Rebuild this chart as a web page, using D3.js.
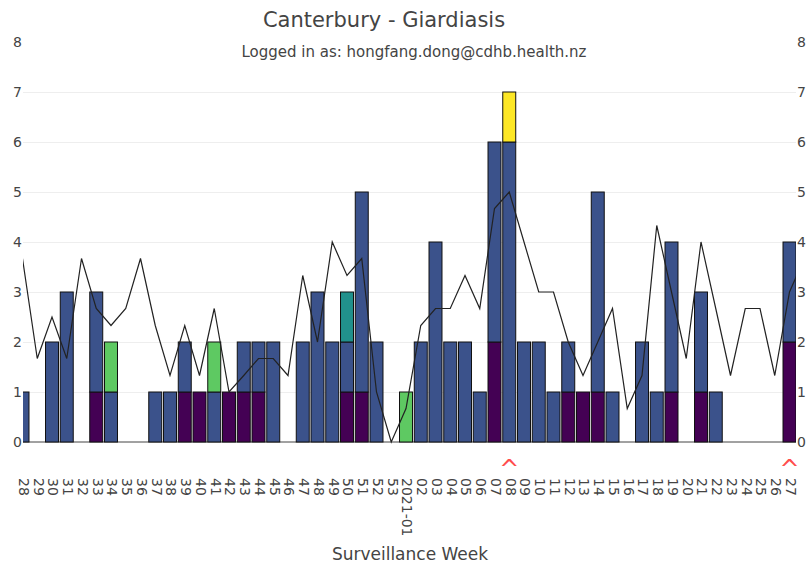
<!DOCTYPE html>
<html>
<head>
<meta charset="utf-8">
<script src="https://cdn.jsdelivr.net/npm/d3@7"></script>
<style>
  body { margin: 0; background: #fff; }
  svg { display: block; font-family: "DejaVu Sans", Verdana, sans-serif; }
</style>
</head>
<body>
<svg id="chart" width="806" height="566"></svg>
<script>
// surveillance weeks, 2020 wk28 -> 2021 wk27
const weeks = ['28', '29', '30', '31', '32', '33', '34', '35', '36', '37', '38', '39', '40',
  '41', '42', '43', '44', '45', '46', '47', '48', '49', '50', '51', '52', '53',
  '2021-01', '02', '03', '04', '05', '06', '07', '08', '09', '10', '11', '12', '13',
  '14', '15', '16', '17', '18', '19', '20', '21', '22', '23', '24', '25', '26', '27'];

// stacked counts, bottom to top
const countsPurple = [0, 0, 0, 0, 0, 1, 0, 0, 0, 0, 0, 1, 1, 0, 1, 1, 1, 0, 0, 0, 0, 0, 1, 1, 0, 0,
  0, 0, 0, 0, 0, 0, 2, 0, 0, 0, 0, 1, 1, 1, 0, 0, 0, 0, 1, 0, 1, 0, 0, 0, 0, 0, 2];
const countsBlue = [1, 0, 2, 3, 0, 2, 1, 0, 0, 1, 1, 1, 0, 1, 0, 1, 1, 2, 0, 2, 3, 2, 1, 4, 2, 0,
  0, 2, 4, 2, 2, 1, 4, 6, 2, 2, 1, 1, 0, 4, 1, 0, 2, 1, 3, 0, 2, 1, 0, 0, 0, 0, 2];
const countsGreen = [0, 0, 0, 0, 0, 0, 1, 0, 0, 0, 0, 0, 0, 1, 0, 0, 0, 0, 0, 0, 0, 0, 0, 0, 0, 0,
  1, 0, 0, 0, 0, 0, 0, 0, 0, 0, 0, 0, 0, 0, 0, 0, 0, 0, 0, 0, 0, 0, 0, 0, 0, 0, 0];
const countsTeal = [0, 0, 0, 0, 0, 0, 0, 0, 0, 0, 0, 0, 0, 0, 0, 0, 0, 0, 0, 0, 0, 0, 1, 0, 0, 0,
  0, 0, 0, 0, 0, 0, 0, 0, 0, 0, 0, 0, 0, 0, 0, 0, 0, 0, 0, 0, 0, 0, 0, 0, 0, 0, 0];
const countsYellow = [0, 0, 0, 0, 0, 0, 0, 0, 0, 0, 0, 0, 0, 0, 0, 0, 0, 0, 0, 0, 0, 0, 0, 0, 0, 0,
  0, 0, 0, 0, 0, 0, 0, 1, 0, 0, 0, 0, 0, 0, 0, 0, 0, 0, 0, 0, 0, 0, 0, 0, 0, 0, 0];

// historical baseline line
const baseline = [3.67, 1.67, 2.5, 1.67, 3.67, 2.67, 2.33, 2.67, 3.67, 2.33, 1.33, 2.33, 1.33,
  2.67, 1.0, 1.33, 1.67, 1.67, 1.33, 3.33, 2.0, 4.0, 3.33, 3.67, 1.0, 0, 0.67, 2.33, 2.67, 2.67,
  3.33, 2.67, 4.67, 5.0, 4.0, 3.0, 3.0, 2.0, 1.33, 2.0, 2.67, 0.67, 1.33, 4.33, 3.0, 1.67, 4.0,
  2.67, 1.33, 2.67, 2.67, 1.33, 3.0];
const baselineNext = 3.67; // following week, falls just outside the plot

const yTicks = [0, 1, 2, 3, 4, 5, 6, 7, 8];
const markedWeeks = ['08', '27'];

const seriesKeys = ['purple', 'blue', 'green', 'teal', 'yellow'];
const seriesColors = ['#440154', '#3b528b', '#5ec962', '#21918c', '#fde725'];

const table = weeks.map((w, i) => ({
  week: w,
  purple: countsPurple[i],
  blue: countsBlue[i],
  green: countsGreen[i],
  teal: countsTeal[i],
  yellow: countsYellow[i]
}));

const plotLeft = 23, plotRight = 796, plotTop = 42, plotBottom = 442;
const fontFamily = '"DejaVu Sans", Verdana, sans-serif';
const svg = d3.select('#chart');

const x = d3.scalePoint().domain(weeks).range([22.5, 789.5]);
const barW = x.step() * 0.88;
const y = d3.scaleLinear().domain([0, 8]).range([plotBottom, plotTop]);

svg.append('defs').append('clipPath').attr('id', 'plot-clip')
  .append('rect')
  .attr('x', plotLeft).attr('y', plotTop - 5)
  .attr('width', plotRight - plotLeft).attr('height', plotBottom - plotTop + 10);

// gridlines
svg.append('g')
  .attr('transform', `translate(${plotLeft},0)`)
  .call(d3.axisLeft(y).tickValues(yTicks.filter(v => v > 0 && v < 8)).tickSize(-(plotRight - plotLeft)).tickFormat(''))
  .call(g => g.select('.domain').remove())
  .call(g => g.selectAll('line').attr('stroke', '#eee'));

// zero line
svg.append('line')
  .attr('x1', plotLeft).attr('x2', plotRight)
  .attr('y1', y(0)).attr('y2', y(0))
  .attr('stroke', '#444').attr('stroke-width', 1);

const plot = svg.append('g').attr('clip-path', 'url(#plot-clip)');

const stack = d3.stack().keys(seriesKeys)(table);

plot.append('g')
  .selectAll('g')
  .data(stack)
  .join('g')
  .attr('fill', (d, i) => seriesColors[i])
  .selectAll('rect')
  .data(d => d.filter(s => s[1] > s[0]))
  .join('rect')
  .attr('x', d => x(d.data.week) - barW / 2)
  .attr('width', barW)
  .attr('y', d => y(d[1]))
  .attr('height', d => y(d[0]) - y(d[1]))
  .attr('stroke', '#111')
  .attr('stroke-width', 1);

// baseline line, plus the week after the last one
const linePts = baseline.map((v, i) => [x(weeks[i]), y(v)]);
linePts.push([x(weeks[weeks.length - 1]) + x.step(), y(baselineNext)]);

plot.append('path')
  .datum(linePts)
  .attr('fill', 'none')
  .attr('stroke', '#222')
  .attr('stroke-width', 1.2)
  .attr('d', d3.line());

// axes
const tickColor = '#444';

function styleAxis(g) {
  g.attr('font-family', fontFamily).attr('font-size', 14);
  g.select('.domain').remove();
  g.selectAll('text').attr('fill', tickColor);
}

svg.append('g')
  .attr('transform', `translate(${plotLeft},0)`)
  .call(d3.axisLeft(y).tickValues(yTicks).tickSize(0).tickPadding(1))
  .call(styleAxis);

svg.append('g')
  .attr('transform', `translate(${plotRight},0)`)
  .call(d3.axisRight(y).tickValues(yTicks).tickSize(0).tickPadding(1))
  .call(styleAxis);

svg.append('g')
  .attr('transform', `translate(0,${plotBottom})`)
  .call(d3.axisBottom(x).tickSize(0))
  .call(styleAxis)
  .call(g => g.selectAll('text')
    .attr('transform', 'rotate(90)')
    .attr('x', 36)
    .attr('y', 0)
    .attr('dy', '0.3em')
    .style('text-anchor', 'start'));

// red markers under flagged weeks
svg.append('g')
  .selectAll('text')
  .data(markedWeeks)
  .join('text')
  .attr('x', d => x(d))
  .attr('y', plotBottom + 35)
  .attr('text-anchor', 'middle')
  .attr('fill', '#ff4d4d')
  .style('font-size', '24px')
  .text('^');

// titles
svg.append('text')
  .attr('x', 384).attr('y', 27)
  .attr('text-anchor', 'middle')
  .attr('fill', '#444')
  .style('font-size', '21px')
  .text('Canterbury - Giardiasis');

svg.append('text')
  .attr('x', 414).attr('y', 57)
  .attr('text-anchor', 'middle')
  .attr('fill', '#444')
  .style('font-size', '15px')
  .text('Logged in as: hongfang.dong@cdhb.health.nz');

svg.append('text')
  .attr('x', 410).attr('y', 560)
  .attr('text-anchor', 'middle')
  .attr('fill', '#444')
  .style('font-size', '17px')
  .text('Surveillance Week');
</script>
</body>
</html>
